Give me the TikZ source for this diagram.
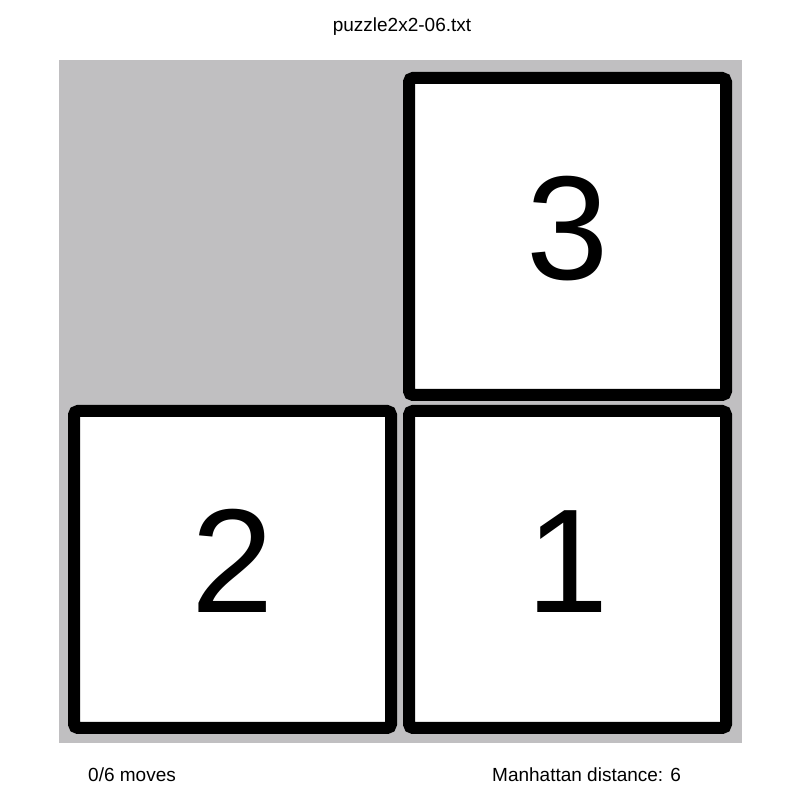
\documentclass[tikz,border=0pt]{standalone}
\usepackage{fontspec}
\setmainfont{Liberation Sans}
\usepackage{tikz}
\usetikzlibrary{positioning}
\definecolor{boardgray}{RGB}{192,191,193}
\tikzset{board/.style={fill=boardgray,minimum size=683pt,inner sep=0pt}}
\tikzset{tile/.style={draw,fill=white,line width=12pt,rounded corners=4pt,minimum size=317pt,inner sep=0pt,text height=106pt,text depth=19pt,font=\fontsize{148}{148}\selectfont}}
\tikzset{caption/.style={font=\fontsize{19}{19}\selectfont,inner sep=0pt}}

\begin{document}
\begin{tikzpicture}
        \useasboundingbox (0pt,0pt) rectangle (800pt,803pt);
        \node[board] (board) at (400.5pt,401.5pt) {};
        \node[tile] (t2) at (232.5pt,233.5pt) {2};
        \node[tile,right=6pt of t2] (t1) {1};
        \node[tile,above=4pt of t1] (t3) {3};
        \node[caption,anchor=base] (title) at (402pt,771pt) {puzzle2x2-06.txt};
        \node[caption,anchor=base west] (moves) at (88pt,21pt) {0/6 moves};
        \node[caption,anchor=base west] (dist) at (492pt,21pt) {Manhattan distance: 6};
    \end{tikzpicture}
\end{document}
